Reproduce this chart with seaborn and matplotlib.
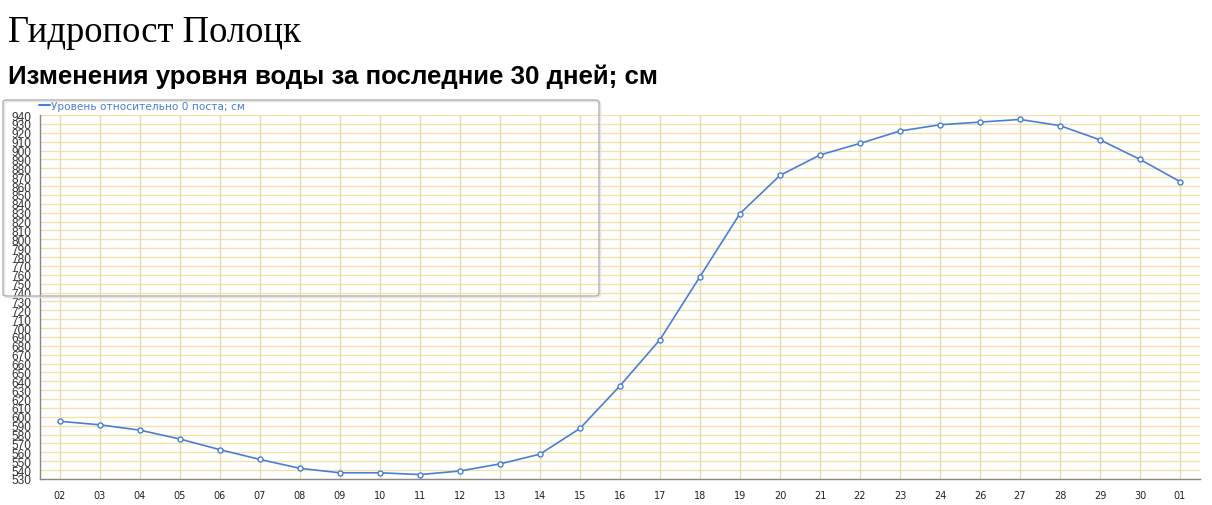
#!/usr/bin/env python3
"""
Water level chart: Polotsk gauging station, last 30 days
"""

import matplotlib
matplotlib.use('Agg')
import matplotlib.pyplot as plt
from matplotlib.patches import FancyBboxPatch
import seaborn as sns
import pandas as pd

# Data
days = ['02', '03', '04', '05', '06', '07', '08', '09', '10', '11', '12', '13', '14',
        '15', '16', '17', '18', '19', '20', '21', '22', '23', '24', '26', '27', '28',
        '29', '30', '01']
levels = [595, 591, 585, 575, 563, 552, 542, 537, 537, 535, 539, 547, 558,
          587, 635, 687, 758, 829, 872, 895, 908, 922, 929, 932, 935, 928,
          912, 890, 865]
y_ticks = list(range(530, 941, 10))

title = 'Гидропост Полоцк'
subtitle = 'Изменения уровня воды за последние 30 дней; см'
series_label = 'Уровень относительно 0 поста; см'

sns.set_style('white')
plt.rcParams['font.family'] = ['DejaVu Sans']

line_color = '#4a7fd8'
grid_color = '#f0e2aa'

df = pd.DataFrame({'day': days, 'level': levels})

fig = plt.figure(figsize=(12.12, 5.06), dpi=100)
ax = fig.add_axes([40 / 1212, 1 - 480 / 506, 1160 / 1212, 364 / 506])

sns.lineplot(data=df, x='day', y='level', sort=False, ax=ax,
             color=line_color, linewidth=1.2, marker='o', markersize=3.6,
             markerfacecolor='white', markeredgecolor=line_color,
             markeredgewidth=1.0, label=series_label, legend=False)

ax.set_xlim(-0.5, len(days) - 0.5)
ax.set_ylim(530, 940)
ax.set_yticks(y_ticks)
ax.set_yticklabels([str(v) for v in y_ticks], family='Liberation Sans',
                   fontsize=8.6, color='#333333')
ax.set_xticks(range(len(days)))
ax.set_xticklabels(days, fontsize=7.0, color='#222222')

ax.grid(True, axis='y', color=grid_color, linewidth=1.0)
ax.grid(True, axis='x', color='#e8dbb2', linewidth=1.0)
ax.set_axisbelow(True)

for side in ['top', 'right']:
    ax.spines[side].set_visible(False)
for side in ['left', 'bottom']:
    ax.spines[side].set_color('#888888')
    ax.spines[side].set_linewidth(1.0)

ax.tick_params(axis='y', direction='out', length=5, width=0.8,
               color='#888888', pad=1.5)
ax.tick_params(axis='x', length=0, pad=8)
ax.set_xlabel('')
ax.set_ylabel('')

# Legend box (large rounded frame over the top-left of the plot)
shadow = FancyBboxPatch((4.5 / 1212, 1 - 298.5 / 506), 596 / 1212, 196 / 506,
                        boxstyle='round,pad=0,rounding_size=0.004',
                        transform=fig.transFigure, facecolor='none',
                        edgecolor='#e4e4e4', linewidth=1.0, zorder=5)
box = FancyBboxPatch((3 / 1212, 1 - 297 / 506), 596 / 1212, 196 / 506,
                     boxstyle='round,pad=0,rounding_size=0.004',
                     transform=fig.transFigure, facecolor='none',
                     edgecolor='#b0b0b0', linewidth=1.0, zorder=6)
fig.add_artist(shadow)
fig.add_artist(box)

handles, labels = ax.get_legend_handles_labels()
leg = fig.legend([handles[0]], [series_label], loc='center left',
                 bbox_to_anchor=(39 / 1212, 1 - 107 / 506), frameon=False,
                 fontsize=7.6, handlelength=1.0, handletextpad=0.15,
                 borderpad=0, borderaxespad=0)
for h in leg.legend_handles:
    h.set_marker('')
    h.set_linewidth(1.5)
for t in leg.get_texts():
    t.set_color(line_color)

fig.text(8 / 1212, 1 - 33 / 506, title, family='Liberation Serif',
         fontsize=26.4, va='center', ha='left', color='#000000')
fig.text(8 / 1212, 1 - 77 / 506, subtitle, family='Liberation Sans',
         fontsize=18.6, fontweight='bold', va='center', ha='left',
         color='#000000')

fig.savefig('out.png', dpi=100)
plt.close(fig)
